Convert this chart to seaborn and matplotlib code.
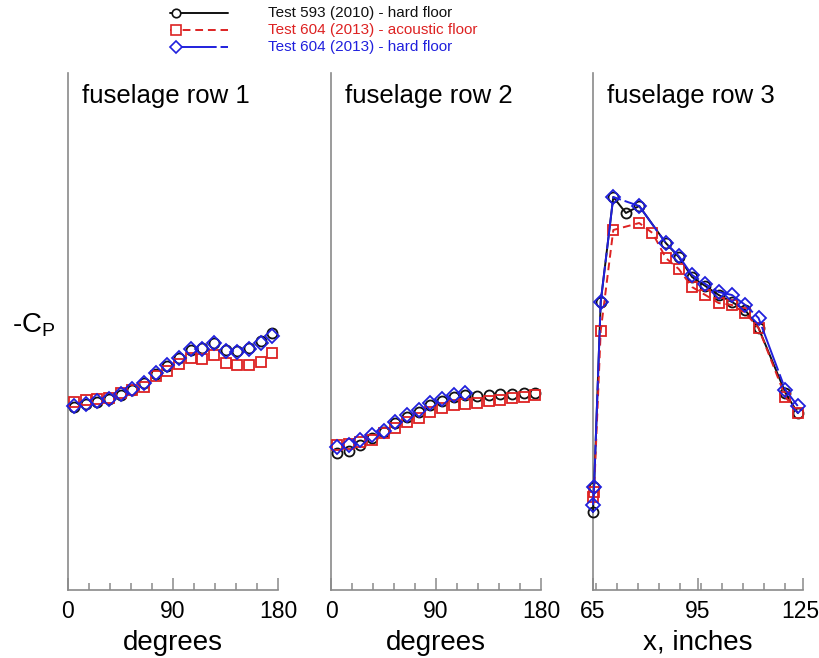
import matplotlib
matplotlib.use("Agg")
import matplotlib.pyplot as plt
import matplotlib.transforms as mtransforms
from matplotlib import font_manager
import seaborn as sns
import pandas as pd
from matplotlib.lines import Line2D
from matplotlib.ticker import MultipleLocator

# ---------------- data ----------------
deg = [5, 15, 25, 35, 45, 55, 65, 75, 85, 95, 105, 115, 125, 135, 145, 155, 165, 175]

row1_t593 = [0.366, 0.372, 0.376, 0.382, 0.390, 0.400, 0.414, 0.432, 0.448, 0.464, 0.480, 0.484,
             0.494, 0.480, 0.478, 0.484, 0.498, 0.514]
row1_t604a = [0.376, 0.380, 0.382, 0.384, 0.394, 0.400, 0.406, 0.428, 0.438, 0.452, 0.464, 0.462,
              0.470, 0.454, 0.450, 0.450, 0.456, 0.474]
row1_t604h = [0.368, 0.372, 0.378, 0.382, 0.392, 0.402, 0.414, 0.434, 0.450, 0.464, 0.482, 0.482,
              0.494, 0.478, 0.476, 0.482, 0.494, 0.508]

row2_t593 = [0.274, 0.278, 0.290, 0.304, 0.316, 0.334, 0.346, 0.356, 0.370, 0.378, 0.386, 0.390,
             0.388, 0.390, 0.392, 0.392, 0.394, 0.394]
row2_t604a = [0.290, 0.292, 0.296, 0.300, 0.314, 0.324, 0.336, 0.344, 0.356, 0.364, 0.370, 0.372,
              0.374, 0.378, 0.380, 0.384, 0.386, 0.390]
deg2_t604h = [5, 15, 25, 35, 45, 55, 65, 75, 85, 95, 105, 115]
row2_t604h = [0.286, 0.290, 0.300, 0.310, 0.318, 0.336, 0.350, 0.360, 0.374, 0.382, 0.390, 0.394]

x3_t593 = [65.0, 65.3, 67.2, 70.8, 74.4, 78.2, 85.8, 89.5, 93.3, 97.1, 100.9, 104.7, 108.5, 112.3, 120.0, 123.5]
row3_t593 = [0.156, 0.206, 0.576, 0.786, 0.754, 0.768, 0.694, 0.666, 0.626, 0.608, 0.590, 0.576,
             0.560, 0.524, 0.394, 0.354]
x3_t604a = [65.0, 65.3, 67.2, 70.8, 78.2, 82.0, 85.8, 89.5, 93.3, 97.1, 100.9, 104.7, 108.5, 112.3, 120.0, 123.5]
row3_t604a = [0.186, 0.196, 0.518, 0.720, 0.734, 0.714, 0.664, 0.642, 0.606, 0.590, 0.574, 0.570,
              0.554, 0.524, 0.386, 0.354]
x3_t604h = [65.0, 65.3, 67.2, 70.8, 78.2, 85.8, 89.5, 93.3, 97.1, 100.9, 104.7, 108.5, 112.3, 120.0, 123.5]
row3_t604h = [0.170, 0.206, 0.576, 0.786, 0.768, 0.694, 0.668, 0.630, 0.612, 0.596, 0.590, 0.570,
              0.544, 0.400, 0.368]

series_labels = ["Test 593 (2010) - hard floor",
                 "Test 604 (2013) - acoustic floor",
                 "Test 604 (2013) - hard floor"]
panel_titles = ["fuselage row 1", "fuselage row 2", "fuselage row 3"]
x_labels = ["degrees", "degrees", "x, inches"]
row12_ticks = [0, 90, 180]
row3_ticks = [65, 95, 125]

# ---------------- style ----------------
sns.set_theme(style="white")
plt.rcParams["font.family"] = ["Liberation Sans", "DejaVu Sans"]
plt.rcParams["text.color"] = "black"
plt.rcParams["axes.labelcolor"] = "black"
plt.rcParams["xtick.color"] = "black"
plt.rcParams["mathtext.fontset"] = "custom"
plt.rcParams["mathtext.rm"] = "Liberation Sans"
plt.rcParams["mathtext.it"] = "Liberation Sans"

installed = {f.name for f in font_manager.fontManager.ttflist}
if "Liberation Sans Narrow" in installed:
    tick_family = ["Liberation Sans Narrow", "Liberation Sans"]
    tick_size = 19
else:
    tick_family = ["Liberation Sans", "DejaVu Sans"]
    tick_size = 16.5

BLACK = "#111111"
RED = "#dd2222"
BLUE = "#2020dd"
SPINE = "#8a8a8a"

styles = [
    dict(color=BLACK, marker="o", markersize=7.2, linestyle="-"),
    dict(color=RED, marker="s", markersize=7.8, linestyle=(0, (4, 2.5))),
    dict(color=BLUE, marker="D", markersize=7.6, linestyle=(0, (24, 2, 5, 2))),
]

fig = plt.figure(figsize=(8.2, 6.58), dpi=100)
W, H = 820, 658
ax_left = [68, 331, 593]
ax_w = 210
bottom_px, top_px = 590, 73
axes = [fig.add_axes([l / W, (H - bottom_px) / H, ax_w / W, (bottom_px - top_px) / H]) for l in ax_left]

panels = [
    [(deg, row1_t593), (deg, row1_t604a), (deg, row1_t604h)],
    [(deg, row2_t593), (deg, row2_t604a), (deg2_t604h, row2_t604h)],
    [(x3_t593, row3_t593), (x3_t604a, row3_t604a), (x3_t604h, row3_t604h)],
]

for i, (ax, panel) in enumerate(zip(axes, panels)):
    for j, (xs, ys) in enumerate(panel):
        st = styles[j]
        df = pd.DataFrame({"x": xs, "y": ys})
        ls = st["linestyle"] if i == 2 else ""
        sns.lineplot(data=df, x="x", y="y", ax=ax, sort=False, errorbar=None,
                     color=st["color"], linestyle=ls, linewidth=1.4,
                     marker=st["marker"], markersize=st["markersize"],
                     markerfacecolor="none", markeredgecolor=st["color"],
                     markeredgewidth=1.3, clip_on=False, zorder=3 + j)
    if i < 2:
        ax.set_xlim(row12_ticks[0], row12_ticks[-1])
        ax.set_xticks(row12_ticks)
        ax.xaxis.set_minor_locator(MultipleLocator(18))
    else:
        ax.set_xlim(row3_ticks[0], row3_ticks[-1])
        ax.set_xticks(row3_ticks)
        ax.xaxis.set_minor_locator(MultipleLocator(6))
    ax.set_ylim(0, 1.034)
    ax.set_yticks([])
    ax.set_ylabel("")
    ax.set_xlabel(x_labels[i], fontsize=20, labelpad=5, color="black")
    sns.despine(ax=ax)
    for s in ["left", "bottom"]:
        ax.spines[s].set_color(SPINE)
        ax.spines[s].set_linewidth(1.2)
    ax.tick_params(axis="x", which="major", direction="in", length=9, width=1.1,
                   color=SPINE, labelsize=tick_size, labelcolor="black", pad=7, bottom=True)
    ax.tick_params(axis="x", which="minor", direction="in", length=5, width=1.1,
                   color=SPINE, bottom=True)
    for lab in ax.get_xticklabels():
        lab.set_family(tick_family)
    ax.text(0.067, 0.955, panel_titles[i], transform=ax.transAxes, color="black",
            fontsize=18.5, va="center", ha="left")
    ax.set_facecolor("white")

# keep last tick label of the last panel inside the figure
last = axes[2].get_xticklabels()[-1]
last.set_transform(last.get_transform() +
                   mtransforms.ScaledTranslation(-3 / 100, 0, fig.dpi_scale_trans))

# y label
fig.text(12 / W, 1 - 325 / H, r"-C$_\mathrm{P}$", fontsize=20, va="center", ha="left", color="black")

# legend (drawn in figure coordinates)
leg_rows = [13, 30, 47]
for j, (lab, st) in enumerate(zip(series_labels, styles)):
    y = 1 - leg_rows[j] / H
    fig.add_artist(Line2D([170 / W, 228 / W], [y, y], transform=fig.transFigure,
                          color=st["color"], linestyle=st["linestyle"], linewidth=1.4))
    fig.add_artist(Line2D([176 / W], [y], transform=fig.transFigure,
                          color=st["color"], marker=st["marker"], markersize=st["markersize"] * 0.85,
                          markerfacecolor="white", markeredgecolor=st["color"], markeredgewidth=1.2,
                          linestyle=""))
    fig.text(268 / W, y, lab, color=st["color"], fontsize=11, va="center", ha="left")

fig.savefig("out.png", dpi=100, facecolor="white")
